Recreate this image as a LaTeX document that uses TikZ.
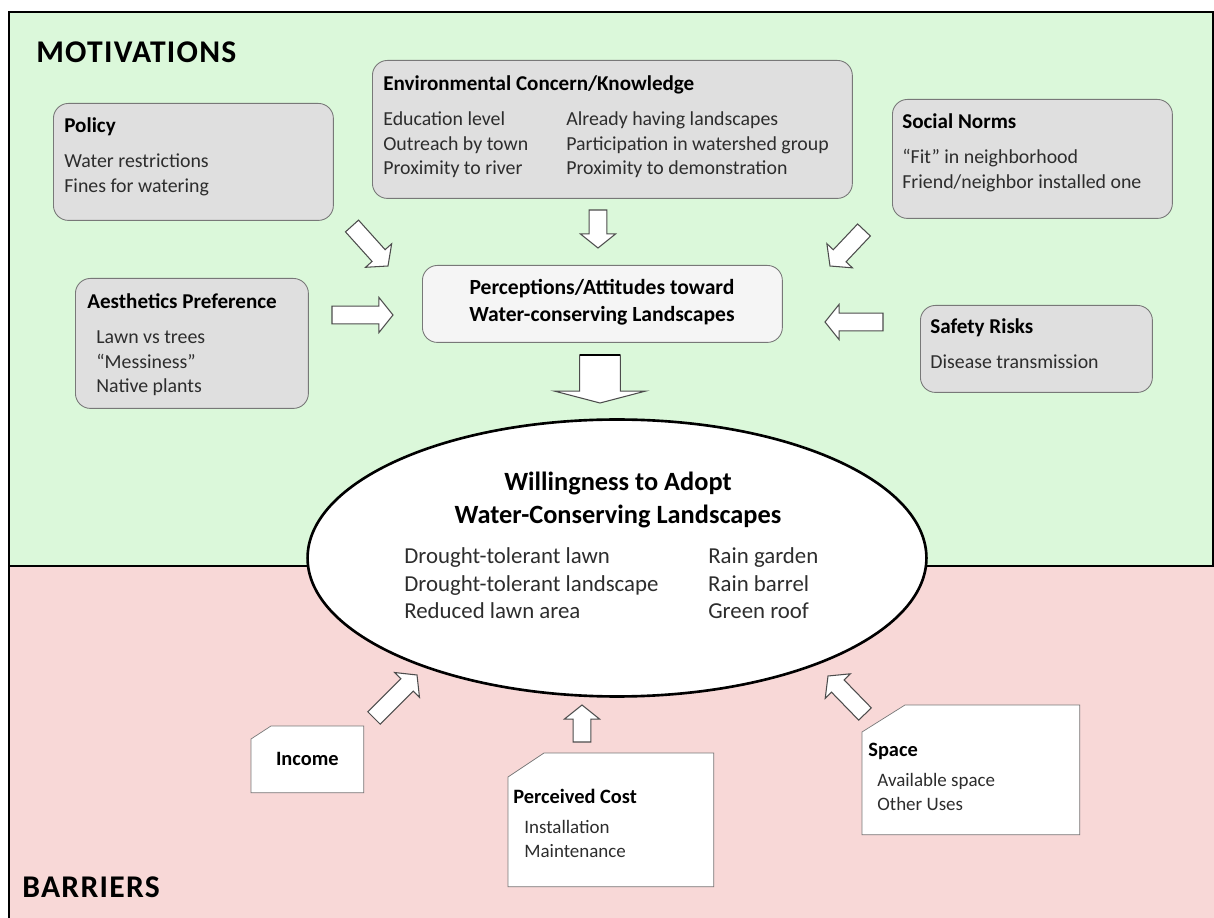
\documentclass[tikz,border=0pt]{standalone}
\usepackage{fontspec}
\setmainfont{Carlito}
\usetikzlibrary{shapes.geometric,calc}

\pgfdeclarelayer{back}
\pgfsetlayers{back,main}

\definecolor{motivgreen}{RGB}{219,248,218}
\definecolor{barrierpink}{RGB}{248,216,215}
\definecolor{boxgray}{RGB}{223,223,223}
\definecolor{percfill}{RGB}{245,245,245}
\definecolor{edgegray}{RGB}{120,120,120}
\definecolor{bodygray}{RGB}{45,45,45}

\newcommand{\boxtitle}[1]{{\fontsize{12}{13.8}\selectfont\bfseries\color{black} #1}}
\newcommand{\bartitle}[1]{{\fontsize{11.6}{13.6}\selectfont\bfseries\color{black} #1}}

% block arrow: tail, tip, shaft half width, head half width, head length
\newcommand{\blockarrow}[5]{%
  \draw[blockline] let \p1=($(#2)-(#1)$), \n1={atan2(\y1,\x1)} in
    ($(#1)+(\n1+90:#3)$) -- ($(#2)+(\n1+180:#5)+(\n1+90:#3)$)
    -- ($(#2)+(\n1+180:#5)+(\n1+90:#4)$) -- (#2)
    -- ($(#2)+(\n1+180:#5)+(\n1-90:#4)$) -- ($(#2)+(\n1+180:#5)+(\n1-90:#3)$)
    -- ($(#1)+(\n1-90:#3)$) -- cycle;}

\begin{document}
\begin{tikzpicture}[x=0.02cm, y=-0.02cm,
    motbox/.style={draw=edgegray, line width=0.5pt, fill=boxgray, rounded corners=0.3cm, anchor=north west, inner sep=0pt},
    percbox/.style={motbox, fill=percfill},
    barbox/.style={anchor=north west, inner sep=0pt},
    baredge/.style={draw=edgegray, fill=white, line width=0.4pt},
    boxtext/.style={anchor=base west, inner sep=0pt, text=bodygray, font=\fontsize{11.3}{13.8}\selectfont},
    bartext/.style={anchor=base west, inner sep=0pt, text=bodygray, font=\fontsize{10.8}{13.6}\selectfont},
    blockline/.style={draw=black!70, fill=white, line width=0.6pt, line join=miter},
    panelhead/.style={anchor=base west, inner sep=0pt, font=\fontsize{18}{20}\selectfont\bfseries\addfontfeatures{LetterSpace=4}}]

  \useasboundingbox (0,0) rectangle (1214,918);

  % Panels
  \begin{pgfonlayer}{back}
    \fill[motivgreen] (9,12) rectangle (1214,566);
    \fill[barrierpink] (9,566) rectangle (1214,918);
    \draw[line width=1.2pt] (1213,566) -- (1213,12) -- (9,12) -- (9,918);
    \draw[line width=1.2pt] (9,566) -- (1214,566);
  \end{pgfonlayer}
  \node[panelhead] (motiv) at (36,63) {MOTIVATIONS};
  \node[panelhead] (barr) at (22,897) {BARRIERS};

  % Motivations
  \node[motbox, minimum width=5.6cm, minimum height=2.34cm] (policy) at (53,103) {};
  \node[motbox, minimum width=9.6cm, minimum height=2.76cm] (envir) at (372,60) {};
  \node[motbox, minimum width=5.6cm, minimum height=2.38cm] (social) at (892,99) {};
  \node[motbox, minimum width=4.66cm, minimum height=2.6cm] (aesth) at (75,278) {};
  \node[motbox, minimum width=4.64cm, minimum height=1.74cm] (safety) at (920,305) {};
  \node[percbox, minimum width=7.2cm, minimum height=1.54cm] (percep) at (422,265) {};

  \node[boxtext] (policytxt) at (64,133) {\begin{tabular}[t]{@{}l@{}}
      \boxtitle{Policy}\\[6pt]
      Water restrictions\\
      Fines for watering
    \end{tabular}};
  \node[boxtext] (envirtxt) at (383,91) {\begin{tabular}[t]{@{}p{3.66cm}@{}l@{}}
      \multicolumn{2}{@{}l@{}}{\boxtitle{Environmental Concern/Knowledge}}\\[6pt]
      Education level & Already having landscapes\\
      Outreach by town & Participation in watershed group\\
      Proximity to river & Proximity to demonstration
    \end{tabular}};
  \node[boxtext] (socialtxt) at (902,129) {\begin{tabular}[t]{@{}l@{}}
      \boxtitle{Social Norms}\\[6pt]
      “Fit” in neighborhood\\
      Friend/neighbor installed one
    \end{tabular}};
  \node[boxtext] (aesthtxt) at (87,309) {\begin{tabular}[t]{@{\hspace{0.18cm}}l@{}}
      \multicolumn{1}{@{}l@{}}{\boxtitle{Aesthetics Preference}}\\[6pt]
      Lawn vs trees\\
      “Messiness”\\
      Native plants
    \end{tabular}};
  \node[boxtext] (safetytxt) at (930,334) {\begin{tabular}[t]{@{}l@{}}
      \boxtitle{Safety Risks}\\[6pt]
      Disease transmission
    \end{tabular}};
  \node[font=\fontsize{12.3}{15.3}\selectfont\bfseries, align=center] (perceptxt) at (602,302)
    {Perceptions/Attitudes toward\\Water-conserving Landscapes};

  % Willingness
  \node[ellipse, draw, line width=1.5pt, fill=white, minimum width=12.38cm, minimum height=5.54cm, inner sep=0pt] (adopt) at (617,558) {};
  \node[font=\fontsize{15}{18.7}\selectfont\bfseries, align=center] (adopttitle) at (618,500)
    {Willingness to Adopt\\Water-Conserving Landscapes};
  \node[anchor=base west, inner sep=0pt, text=bodygray, font=\fontsize{13}{15.6}\selectfont] (adoptlist) at (404,564)
    {\begin{tabular}[t]{@{}p{6.08cm}@{}l@{}}
      Drought-tolerant lawn & Rain garden\\
      Drought-tolerant landscape & Rain barrel\\
      Reduced lawn area & Green roof
    \end{tabular}};

  % Barriers
  \node[barbox, minimum width=2.24cm, minimum height=1.32cm] (income) at (251,726) {};
  \node[barbox, minimum width=4.1cm, minimum height=2.66cm] (cost) at (508,753) {};
  \node[barbox, minimum width=4.34cm, minimum height=2.58cm] (space) at (862,705) {};
  \begin{pgfonlayer}{back}
    \draw[baredge] (income.south west) -- ($(income.north west)+(0,13)$) -- ($(income.north west)+(20,0)$)
      -- (income.north east) -- (income.south east) -- cycle;
    \draw[baredge] (cost.south west) -- ($(cost.north west)+(0,24)$) -- ($(cost.north west)+(36,0)$)
      -- (cost.north east) -- (cost.south east) -- cycle;
    \draw[baredge] (space.south west) -- ($(space.north west)+(0,27)$) -- ($(space.north west)+(43,0)$)
      -- (space.north east) -- (space.south east) -- cycle;
  \end{pgfonlayer}
  \node[font=\fontsize{11.6}{13.6}\selectfont\bfseries] (incometxt) at (income.center) {Income};
  \node[bartext] (costtxt) at (513,803) {\begin{tabular}[t]{@{\hspace{0.22cm}}l@{}}
      \multicolumn{1}{@{}l@{}}{\bartitle{Perceived Cost}}\\[4pt]
      Installation\\
      Maintenance
    \end{tabular}};
  \node[bartext] (spacetxt) at (868,756) {\begin{tabular}[t]{@{\hspace{0.18cm}}l@{}}
      \multicolumn{1}{@{}l@{}}{\bartitle{Space}}\\[4pt]
      Available space\\
      Other Uses
    \end{tabular}};

  % Block arrows
  \coordinate (polT) at (352,226); \coordinate (polH) at (388,266);
  \coordinate (envT) at (598,210); \coordinate (envH) at (598,248);
  \coordinate (socT) at (864,230); \coordinate (socH) at (830,266);
  \coordinate (aesT) at (332,315); \coordinate (aesH) at (393,315);
  \coordinate (safT) at (883,322); \coordinate (safH) at (825,322);
  \coordinate (perT) at (600,355); \coordinate (perH) at (600,403);
  \coordinate (incT) at (374,718); \coordinate (incH) at (417,675);
  \coordinate (cosT) at (582,742); \coordinate (cosH) at (582,705);
  \coordinate (spaT) at (865,714); \coordinate (spaH) at (828,676);
  \foreach \ta/\tb in {polT/polH, envT/envH, socT/socH, aesT/aesH, safT/safH, incT/incH, cosT/cosH, spaT/spaH}
    \blockarrow{\ta}{\tb}{5pt}{10pt}{8pt};
  \blockarrow{perT}{perH}{11.6pt}{26pt}{6.8pt}
  \draw[line width=1.6pt] ($(perT)+(-11.6pt,0)$) -- ($(perT)+(11.6pt,0)$);
\end{tikzpicture}
\end{document}
